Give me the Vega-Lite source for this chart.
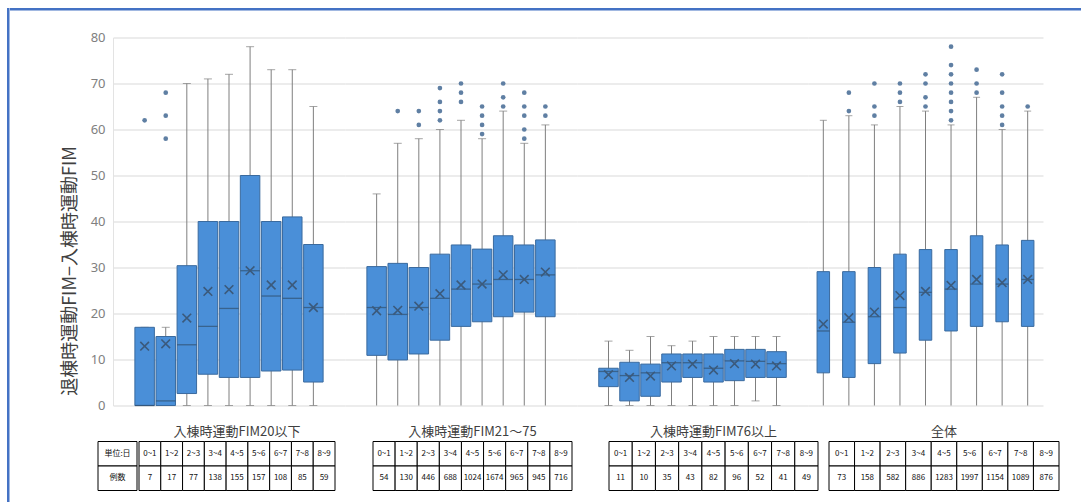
{
  "$schema": "https://vega.github.io/schema/vega-lite/v6.json",
  "background": "white",
  "padding": {"left": 7, "top": 8, "right": 0, "bottom": 0},
  "config": {
    "view": {"stroke": null},
    "font": "Noto Sans CJK JP",
    "title": {"fontSize": 13, "fontWeight": "normal", "color": "#404040", "offset": 2, "font": "Noto Sans CJK JP"}
  },
  "datasets": {
    "boxes": [
      {"group": "le20", "period": "0~1", "lo": 0, "q1": 0, "median": 0, "q3": 17, "hi": 17, "mean": 12.9, "n": 7},
      {"group": "le20", "period": "1~2", "lo": 0, "q1": 0, "median": 1, "q3": 15, "hi": 17, "mean": 13.4, "n": 17},
      {"group": "le20", "period": "2~3", "lo": 0, "q1": 2.6, "median": 13.2, "q3": 30.4, "hi": 70, "mean": 19.0, "n": 77},
      {"group": "le20", "period": "3~4", "lo": 0, "q1": 6.8, "median": 17.2, "q3": 40, "hi": 71, "mean": 24.8, "n": 138},
      {"group": "le20", "period": "4~5", "lo": 0, "q1": 6.1, "median": 21.1, "q3": 40, "hi": 72, "mean": 25.2, "n": 155},
      {"group": "le20", "period": "5~6", "lo": 0, "q1": 6.1, "median": 29.3, "q3": 50, "hi": 78, "mean": 29.3, "n": 157},
      {"group": "le20", "period": "6~7", "lo": 0, "q1": 7.5, "median": 23.8, "q3": 40, "hi": 73, "mean": 26.2, "n": 108},
      {"group": "le20", "period": "7~8", "lo": 0, "q1": 7.7, "median": 23.3, "q3": 41, "hi": 73, "mean": 26.2, "n": 85},
      {"group": "le20", "period": "8~9", "lo": 0, "q1": 5.1, "median": 21.3, "q3": 35, "hi": 65, "mean": 21.3, "n": 59},
      {"group": "mid", "period": "0~1", "lo": 0, "q1": 10.9, "median": 21.3, "q3": 30.2, "hi": 46, "mean": 20.6, "n": 54},
      {"group": "mid", "period": "1~2", "lo": 0, "q1": 9.9, "median": 19.8, "q3": 30.9, "hi": 57, "mean": 20.7, "n": 130},
      {"group": "mid", "period": "2~3", "lo": 0, "q1": 11.2, "median": 21.3, "q3": 30, "hi": 58, "mean": 21.6, "n": 446},
      {"group": "mid", "period": "3~4", "lo": 0, "q1": 14.2, "median": 23.3, "q3": 32.9, "hi": 60, "mean": 24.3, "n": 688},
      {"group": "mid", "period": "4~5", "lo": 0, "q1": 17.2, "median": 25.3, "q3": 34.9, "hi": 62, "mean": 26.2, "n": 1024},
      {"group": "mid", "period": "5~6", "lo": 0, "q1": 18.2, "median": 26.4, "q3": 34, "hi": 58, "mean": 26.4, "n": 1674},
      {"group": "mid", "period": "6~7", "lo": 0, "q1": 19.3, "median": 27.4, "q3": 36.9, "hi": 64, "mean": 28.4, "n": 965},
      {"group": "mid", "period": "7~8", "lo": 0, "q1": 20.3, "median": 27.4, "q3": 34.9, "hi": 57, "mean": 27.4, "n": 945},
      {"group": "mid", "period": "8~9", "lo": 0, "q1": 19.3, "median": 28.4, "q3": 36, "hi": 61, "mean": 29.0, "n": 716},
      {"group": "ge76", "period": "0~1", "lo": 0, "q1": 4.1, "median": 7.4, "q3": 8.1, "hi": 14, "mean": 6.7, "n": 11},
      {"group": "ge76", "period": "1~2", "lo": 0, "q1": 1.0, "median": 6.5, "q3": 9.4, "hi": 12, "mean": 6.1, "n": 10},
      {"group": "ge76", "period": "2~3", "lo": 0, "q1": 2.0, "median": 7.1, "q3": 9.0, "hi": 15, "mean": 6.4, "n": 35},
      {"group": "ge76", "period": "3~4", "lo": 0, "q1": 5.1, "median": 9.3, "q3": 11.2, "hi": 13, "mean": 8.6, "n": 43},
      {"group": "ge76", "period": "4~5", "lo": 0, "q1": 6.1, "median": 9.3, "q3": 11.2, "hi": 14, "mean": 9.0, "n": 82},
      {"group": "ge76", "period": "5~6", "lo": 0, "q1": 5.1, "median": 8.1, "q3": 11.2, "hi": 15, "mean": 7.7, "n": 96},
      {"group": "ge76", "period": "6~7", "lo": 0, "q1": 5.4, "median": 9.7, "q3": 12.2, "hi": 15, "mean": 9.1, "n": 52},
      {"group": "ge76", "period": "7~8", "lo": 1, "q1": 6.1, "median": 9.6, "q3": 12.2, "hi": 15, "mean": 9.0, "n": 41},
      {"group": "ge76", "period": "8~9", "lo": 0, "q1": 6.1, "median": 9.1, "q3": 11.7, "hi": 15, "mean": 8.6, "n": 49},
      {"group": "all", "period": "0~1", "lo": 0, "q1": 7.1, "median": 16.2, "q3": 29.1, "hi": 62, "mean": 17.7, "n": 73},
      {"group": "all", "period": "1~2", "lo": 0, "q1": 6.1, "median": 18.1, "q3": 29.1, "hi": 63, "mean": 19.1, "n": 158},
      {"group": "all", "period": "2~3", "lo": 0, "q1": 9.1, "median": 19.3, "q3": 30, "hi": 61, "mean": 20.3, "n": 582},
      {"group": "all", "period": "3~4", "lo": 0, "q1": 11.4, "median": 21.3, "q3": 32.9, "hi": 65, "mean": 23.9, "n": 886},
      {"group": "all", "period": "4~5", "lo": 0, "q1": 14.2, "median": 24.6, "q3": 33.9, "hi": 64, "mean": 24.8, "n": 1283},
      {"group": "all", "period": "5~6", "lo": 0, "q1": 16.2, "median": 25.3, "q3": 33.9, "hi": 61, "mean": 26.1, "n": 1997},
      {"group": "all", "period": "6~7", "lo": 0, "q1": 17.2, "median": 26.4, "q3": 36.9, "hi": 67, "mean": 27.4, "n": 1154},
      {"group": "all", "period": "7~8", "lo": 0, "q1": 18.2, "median": 26.4, "q3": 34.9, "hi": 60, "mean": 26.7, "n": 1089},
      {"group": "all", "period": "8~9", "lo": 0, "q1": 17.2, "median": 27.4, "q3": 35.9, "hi": 64, "mean": 27.4, "n": 876}
    ],
    "outliers": [
      {"group": "le20", "period": "0~1", "value": 62},
      {"group": "le20", "period": "1~2", "value": 68},
      {"group": "le20", "period": "1~2", "value": 63},
      {"group": "le20", "period": "1~2", "value": 58},
      {"group": "mid", "period": "1~2", "value": 64},
      {"group": "mid", "period": "2~3", "value": 64},
      {"group": "mid", "period": "2~3", "value": 61},
      {"group": "mid", "period": "3~4", "value": 62},
      {"group": "mid", "period": "3~4", "value": 64},
      {"group": "mid", "period": "3~4", "value": 66},
      {"group": "mid", "period": "3~4", "value": 69},
      {"group": "mid", "period": "4~5", "value": 66},
      {"group": "mid", "period": "4~5", "value": 68},
      {"group": "mid", "period": "4~5", "value": 70},
      {"group": "mid", "period": "5~6", "value": 59},
      {"group": "mid", "period": "5~6", "value": 61},
      {"group": "mid", "period": "5~6", "value": 63},
      {"group": "mid", "period": "5~6", "value": 65},
      {"group": "mid", "period": "6~7", "value": 65},
      {"group": "mid", "period": "6~7", "value": 67},
      {"group": "mid", "period": "6~7", "value": 70},
      {"group": "mid", "period": "7~8", "value": 58},
      {"group": "mid", "period": "7~8", "value": 60},
      {"group": "mid", "period": "7~8", "value": 63},
      {"group": "mid", "period": "7~8", "value": 65},
      {"group": "mid", "period": "7~8", "value": 68},
      {"group": "mid", "period": "8~9", "value": 63},
      {"group": "mid", "period": "8~9", "value": 65},
      {"group": "all", "period": "1~2", "value": 64},
      {"group": "all", "period": "1~2", "value": 68},
      {"group": "all", "period": "2~3", "value": 63},
      {"group": "all", "period": "2~3", "value": 65},
      {"group": "all", "period": "2~3", "value": 70},
      {"group": "all", "period": "3~4", "value": 66},
      {"group": "all", "period": "3~4", "value": 68},
      {"group": "all", "period": "3~4", "value": 70},
      {"group": "all", "period": "4~5", "value": 65},
      {"group": "all", "period": "4~5", "value": 67},
      {"group": "all", "period": "4~5", "value": 70},
      {"group": "all", "period": "4~5", "value": 72},
      {"group": "all", "period": "5~6", "value": 62},
      {"group": "all", "period": "5~6", "value": 64},
      {"group": "all", "period": "5~6", "value": 66},
      {"group": "all", "period": "5~6", "value": 68},
      {"group": "all", "period": "5~6", "value": 70},
      {"group": "all", "period": "5~6", "value": 72},
      {"group": "all", "period": "5~6", "value": 74},
      {"group": "all", "period": "5~6", "value": 78},
      {"group": "all", "period": "6~7", "value": 68},
      {"group": "all", "period": "6~7", "value": 70},
      {"group": "all", "period": "6~7", "value": 73},
      {"group": "all", "period": "7~8", "value": 61},
      {"group": "all", "period": "7~8", "value": 63},
      {"group": "all", "period": "7~8", "value": 65},
      {"group": "all", "period": "7~8", "value": 68},
      {"group": "all", "period": "7~8", "value": 72},
      {"group": "all", "period": "8~9", "value": 65}
    ],
    "rowlabels": [
      {"row": "period", "label": "単位:日"},
      {"row": "n", "label": "例数"}
    ]
  },
  "columns": 2,
  "align": "none",
  "spacing": 0,
  "concat": [
    {
      "width": 0.5,
      "height": 494,
      "view": {"stroke": "#4472C4", "strokeWidth": 2},
      "data": {"values": []},
      "mark": "rule",
      "encoding": {}
    },
    {
      "columns": 1,
      "align": "none",
      "spacing": 20.5,
      "concat": [
        {
          "width": 1073.5,
          "height": 0.5,
          "view": {"stroke": "#4472C4", "strokeWidth": 2},
          "data": {"values": []},
          "mark": "rule",
          "encoding": {}
        },
        {
          "columns": 1,
          "align": "none",
          "spacing": 13,
          "concat": [
            {
              "spacing": 0,
              "hconcat": [
                {
                  "width": 50,
                  "height": 368,
                  "data": {"values": []},
                  "mark": "rule",
                  "encoding": {}
                },
                {
                  "width": 232,
                  "height": 368,
                  "layer": [
                    {
                      "data": {"name": "boxes"},
                      "transform": [{"filter": "datum.group === 'le20'"}],
                      "mark": {"type": "rule", "color": "#7F7F7F", "strokeWidth": 1},
                      "encoding": {
                        "x": {"field": "period", "type": "nominal", "scale": {"domain": ["0~1","1~2","2~3","3~4","4~5","5~6","6~7","7~8","8~9"], "paddingInner": 0, "paddingOuter": 1.1}, "axis": null},
                        "y": {"field": "lo", "type": "quantitative", "scale": {"domain": [0, 80], "nice": false},
                          "axis": {"title": "退棟時運動FIM−入棟時運動FIM", "values": [0,10,20,30,40,50,60,70,80], "grid": true, "gridColor": "#D9D9D9", "ticks": false, "domain": true, "domainColor": "#E3E3E3", "labelColor": "#808080", "labelFont": "Noto Sans", "labelFontSize": 13, "labelPadding": 8, "titleFont": "Noto Sans CJK JP", "titleFontSize": 18, "titleFontWeight": "normal", "titleColor": "#404040", "titlePadding": 10, "titleY": 233, "minExtent": 24, "maxExtent": 24}},
                        "y2": {"field": "hi"}
                      }
                    },
                    {
                      "data": {"name": "boxes"},
                      "transform": [{"filter": "datum.group === 'le20'"}],
                      "mark": {"type": "tick", "color": "#7F7F7F", "size": 8, "thickness": 1},
                      "encoding": {
                        "x": {"field": "period", "type": "nominal", "axis": null},
                        "y": {"field": "hi", "type": "quantitative"}
                      }
                    },
                    {
                      "data": {"name": "boxes"},
                      "transform": [{"filter": "datum.group === 'le20'"}],
                      "mark": {"type": "tick", "color": "#7F7F7F", "size": 8, "thickness": 1},
                      "encoding": {
                        "x": {"field": "period", "type": "nominal", "axis": null},
                        "y": {"field": "lo", "type": "quantitative"}
                      }
                    },
                    {
                      "data": {"name": "boxes"},
                      "transform": [{"filter": "datum.group === 'le20'"}],
                      "mark": {"type": "bar", "fill": "#4A8FD8", "stroke": "#3A6A9E", "strokeWidth": 1, "size": 19.5},
                      "encoding": {
                        "x": {"field": "period", "type": "nominal", "axis": null},
                        "y": {"field": "q1", "type": "quantitative"},
                        "y2": {"field": "q3"}
                      }
                    },
                    {
                      "data": {"name": "boxes"},
                      "transform": [{"filter": "datum.group === 'le20'"}],
                      "mark": {"type": "tick", "color": "#30506F", "size": 19.5, "thickness": 1.3},
                      "encoding": {
                        "x": {"field": "period", "type": "nominal", "axis": null},
                        "y": {"field": "median", "type": "quantitative"}
                      }
                    },
                    {
                      "data": {"name": "boxes"},
                      "transform": [{"filter": "datum.group === 'le20'"}],
                      "mark": {"type": "point", "shape": "M-1,-1L1,1M1,-1L-1,1", "filled": false, "color": "#3B5A7C", "strokeWidth": 1.6, "size": 75, "opacity": 1},
                      "encoding": {
                        "x": {"field": "period", "type": "nominal", "axis": null},
                        "y": {"field": "mean", "type": "quantitative"}
                      }
                    },
                    {
                      "data": {"name": "outliers"},
                      "transform": [{"filter": "datum.group === 'le20'"}],
                      "mark": {"type": "circle", "color": "#5F7FA3", "size": 22, "opacity": 1},
                      "encoding": {
                        "x": {"field": "period", "type": "nominal", "axis": null},
                        "y": {"field": "value", "type": "quantitative"}
                      }
                    }
                  ]
                },
                {
                  "width": 232,
                  "height": 368,
                  "layer": [
                    {
                      "data": {"name": "boxes"},
                      "transform": [{"filter": "datum.group === 'mid'"}],
                      "mark": {"type": "rule", "color": "#7F7F7F", "strokeWidth": 1},
                      "encoding": {
                        "x": {"field": "period", "type": "nominal", "scale": {"domain": ["0~1","1~2","2~3","3~4","4~5","5~6","6~7","7~8","8~9"], "paddingInner": 0, "paddingOuter": 1.1}, "axis": null},
                        "y": {"field": "lo", "type": "quantitative", "scale": {"domain": [0, 80], "nice": false},
                          "axis": {"title": null, "values": [0,10,20,30,40,50,60,70,80], "grid": true, "gridColor": "#D9D9D9", "labels": false, "ticks": false, "domain": false, "minExtent": 0, "maxExtent": 0}},
                        "y2": {"field": "hi"}
                      }
                    },
                    {
                      "data": {"name": "boxes"},
                      "transform": [{"filter": "datum.group === 'mid'"}],
                      "mark": {"type": "tick", "color": "#7F7F7F", "size": 8, "thickness": 1},
                      "encoding": {
                        "x": {"field": "period", "type": "nominal", "axis": null},
                        "y": {"field": "hi", "type": "quantitative"}
                      }
                    },
                    {
                      "data": {"name": "boxes"},
                      "transform": [{"filter": "datum.group === 'mid'"}],
                      "mark": {"type": "bar", "fill": "#4A8FD8", "stroke": "#3A6A9E", "strokeWidth": 1, "size": 19.5},
                      "encoding": {
                        "x": {"field": "period", "type": "nominal", "axis": null},
                        "y": {"field": "q1", "type": "quantitative"},
                        "y2": {"field": "q3"}
                      }
                    },
                    {
                      "data": {"name": "boxes"},
                      "transform": [{"filter": "datum.group === 'mid'"}],
                      "mark": {"type": "tick", "color": "#30506F", "size": 19.5, "thickness": 1.3},
                      "encoding": {
                        "x": {"field": "period", "type": "nominal", "axis": null},
                        "y": {"field": "median", "type": "quantitative"}
                      }
                    },
                    {
                      "data": {"name": "boxes"},
                      "transform": [{"filter": "datum.group === 'mid'"}],
                      "mark": {"type": "point", "shape": "M-1,-1L1,1M1,-1L-1,1", "filled": false, "color": "#3B5A7C", "strokeWidth": 1.6, "size": 75, "opacity": 1},
                      "encoding": {
                        "x": {"field": "period", "type": "nominal", "axis": null},
                        "y": {"field": "mean", "type": "quantitative"}
                      }
                    },
                    {
                      "data": {"name": "outliers"},
                      "transform": [{"filter": "datum.group === 'mid'"}],
                      "mark": {"type": "circle", "color": "#5F7FA3", "size": 22, "opacity": 1},
                      "encoding": {
                        "x": {"field": "period", "type": "nominal", "axis": null},
                        "y": {"field": "value", "type": "quantitative"}
                      }
                    }
                  ]
                },
                {
                  "width": 231,
                  "height": 368,
                  "layer": [
                    {
                      "data": {"name": "boxes"},
                      "transform": [{"filter": "datum.group === 'ge76'"}],
                      "mark": {"type": "rule", "color": "#7F7F7F", "strokeWidth": 1},
                      "encoding": {
                        "x": {"field": "period", "type": "nominal", "scale": {"domain": ["0~1","1~2","2~3","3~4","4~5","5~6","6~7","7~8","8~9"], "paddingInner": 0, "paddingOuter": 1.1}, "axis": null},
                        "y": {"field": "lo", "type": "quantitative", "scale": {"domain": [0, 80], "nice": false},
                          "axis": {"title": null, "values": [0,10,20,30,40,50,60,70,80], "grid": true, "gridColor": "#D9D9D9", "labels": false, "ticks": false, "domain": false, "minExtent": 0, "maxExtent": 0}},
                        "y2": {"field": "hi"}
                      }
                    },
                    {
                      "data": {"name": "boxes"},
                      "transform": [{"filter": "datum.group === 'ge76'"}],
                      "mark": {"type": "tick", "color": "#7F7F7F", "size": 8, "thickness": 1},
                      "encoding": {
                        "x": {"field": "period", "type": "nominal", "axis": null},
                        "y": {"field": "hi", "type": "quantitative"}
                      }
                    },
                    {
                      "data": {"name": "boxes"},
                      "transform": [{"filter": "datum.group === 'ge76'"}],
                      "mark": {"type": "tick", "color": "#7F7F7F", "size": 8, "thickness": 1},
                      "encoding": {
                        "x": {"field": "period", "type": "nominal", "axis": null},
                        "y": {"field": "lo", "type": "quantitative"}
                      }
                    },
                    {
                      "data": {"name": "boxes"},
                      "transform": [{"filter": "datum.group === 'ge76'"}],
                      "mark": {"type": "bar", "fill": "#4A8FD8", "stroke": "#3A6A9E", "strokeWidth": 1, "size": 19.5},
                      "encoding": {
                        "x": {"field": "period", "type": "nominal", "axis": null},
                        "y": {"field": "q1", "type": "quantitative"},
                        "y2": {"field": "q3"}
                      }
                    },
                    {
                      "data": {"name": "boxes"},
                      "transform": [{"filter": "datum.group === 'ge76'"}],
                      "mark": {"type": "tick", "color": "#30506F", "size": 19.5, "thickness": 1.3},
                      "encoding": {
                        "x": {"field": "period", "type": "nominal", "axis": null},
                        "y": {"field": "median", "type": "quantitative"}
                      }
                    },
                    {
                      "data": {"name": "boxes"},
                      "transform": [{"filter": "datum.group === 'ge76'"}],
                      "mark": {"type": "point", "shape": "M-1,-1L1,1M1,-1L-1,1", "filled": false, "color": "#3B5A7C", "strokeWidth": 1.6, "size": 75, "opacity": 1},
                      "encoding": {
                        "x": {"field": "period", "type": "nominal", "axis": null},
                        "y": {"field": "mean", "type": "quantitative"}
                      }
                    }
                  ]
                },
                {
                  "width": 235,
                  "height": 368,
                  "layer": [
                    {
                      "data": {"name": "boxes"},
                      "transform": [{"filter": "datum.group === 'all'"}],
                      "mark": {"type": "rule", "color": "#7F7F7F", "strokeWidth": 1},
                      "encoding": {
                        "x": {"field": "period", "type": "nominal", "scale": {"domain": ["0~1","1~2","2~3","3~4","4~5","5~6","6~7","7~8","8~9"], "paddingInner": 0, "paddingOuter": 0.1}, "axis": null},
                        "y": {"field": "lo", "type": "quantitative", "scale": {"domain": [0, 80], "nice": false},
                          "axis": {"title": null, "values": [0,10,20,30,40,50,60,70,80], "grid": true, "gridColor": "#D9D9D9", "labels": false, "ticks": false, "domain": false, "minExtent": 0, "maxExtent": 0}},
                        "y2": {"field": "hi"}
                      }
                    },
                    {
                      "data": {"name": "boxes"},
                      "transform": [{"filter": "datum.group === 'all'"}],
                      "mark": {"type": "tick", "color": "#7F7F7F", "size": 7, "thickness": 1},
                      "encoding": {
                        "x": {"field": "period", "type": "nominal", "axis": null},
                        "y": {"field": "hi", "type": "quantitative"}
                      }
                    },
                    {
                      "data": {"name": "boxes"},
                      "transform": [{"filter": "datum.group === 'all'"}],
                      "mark": {"type": "bar", "fill": "#4A8FD8", "stroke": "#3A6A9E", "strokeWidth": 1, "size": 12.5},
                      "encoding": {
                        "x": {"field": "period", "type": "nominal", "axis": null},
                        "y": {"field": "q1", "type": "quantitative"},
                        "y2": {"field": "q3"}
                      }
                    },
                    {
                      "data": {"name": "boxes"},
                      "transform": [{"filter": "datum.group === 'all'"}],
                      "mark": {"type": "tick", "color": "#30506F", "size": 12.5, "thickness": 1.3},
                      "encoding": {
                        "x": {"field": "period", "type": "nominal", "axis": null},
                        "y": {"field": "median", "type": "quantitative"}
                      }
                    },
                    {
                      "data": {"name": "boxes"},
                      "transform": [{"filter": "datum.group === 'all'"}],
                      "mark": {"type": "point", "shape": "M-1,-1L1,1M1,-1L-1,1", "filled": false, "color": "#3B5A7C", "strokeWidth": 1.6, "size": 75, "opacity": 1},
                      "encoding": {
                        "x": {"field": "period", "type": "nominal", "axis": null},
                        "y": {"field": "mean", "type": "quantitative"}
                      }
                    },
                    {
                      "data": {"name": "outliers"},
                      "transform": [{"filter": "datum.group === 'all'"}],
                      "mark": {"type": "circle", "color": "#5F7FA3", "size": 22, "opacity": 1},
                      "encoding": {
                        "x": {"field": "period", "type": "nominal", "axis": null},
                        "y": {"field": "value", "type": "quantitative"}
                      }
                    }
                  ]
                }
              ]
            },
            {
              "spacing": 0,
              "hconcat": [
                {
                  "width": 86,
                  "height": 49,
                  "data": {"values": []},
                  "mark": "rule",
                  "encoding": {}
                },
                {
                  "width": 39,
                  "height": 49,
                  "data": {"name": "rowlabels"},
                  "layer": [
                    {
                      "mark": {"type": "rect", "fill": "white", "stroke": "#000000", "strokeWidth": 1},
                      "encoding": {
                        "y": {"field": "row", "type": "nominal", "scale": {"domain": ["period", "n"], "paddingInner": 0, "paddingOuter": 0}, "axis": null},
                        "x": {"value": 0},
                        "x2": {"value": "width"}
                      }
                    },
                    {
                      "mark": {"type": "text", "fontSize": 8, "color": "#111111"},
                      "encoding": {
                        "y": {"field": "row", "type": "nominal", "axis": null},
                        "text": {"field": "label"}
                      }
                    }
                  ]
                },
                {
                  "width": 196,
                  "height": 49,
                  "title": "入棟時運動FIM20以下",
                  "data": {"name": "boxes"},
                  "transform": [{"filter": "datum.group === 'le20'"}, {"fold": ["period", "n"], "as": ["row", "val"]}],
                  "layer": [
                    {
                      "mark": {"type": "rect", "fill": "white", "stroke": "#000000", "strokeWidth": 1},
                      "encoding": {
                        "x": {"field": "period", "type": "nominal", "scale": {"domain": ["0~1","1~2","2~3","3~4","4~5","5~6","6~7","7~8","8~9"], "paddingInner": 0, "paddingOuter": 0}, "axis": null},
                        "y": {"field": "row", "type": "nominal", "scale": {"domain": ["period", "n"], "paddingInner": 0, "paddingOuter": 0}, "axis": null}
                      }
                    },
                    {
                      "mark": {"type": "text", "fontSize": 8, "color": "#111111"},
                      "encoding": {
                        "x": {"field": "period", "type": "nominal", "axis": null},
                        "y": {"field": "row", "type": "nominal", "axis": null},
                        "text": {"field": "val"}
                      }
                    }
                  ]
                },
                {
                  "width": 199,
                  "height": 49,
                  "title": "入棟時運動FIM21～75",
                  "data": {"name": "boxes"},
                  "transform": [{"filter": "datum.group === 'mid'"}, {"fold": ["period", "n"], "as": ["row", "val"]}],
                  "layer": [
                    {
                      "mark": {"type": "rect", "fill": "white", "stroke": "#000000", "strokeWidth": 1},
                      "encoding": {
                        "x": {"field": "period", "type": "nominal", "scale": {"domain": ["0~1","1~2","2~3","3~4","4~5","5~6","6~7","7~8","8~9"], "paddingInner": 0, "paddingOuter": 0}, "axis": null},
                        "y": {"field": "row", "type": "nominal", "scale": {"domain": ["period", "n"], "paddingInner": 0, "paddingOuter": 0},
                          "axis": {"title": null, "labels": false, "ticks": false, "domain": false, "grid": false, "minExtent": 37, "maxExtent": 37}}
                      }
                    },
                    {
                      "mark": {"type": "text", "fontSize": 8, "color": "#111111"},
                      "encoding": {
                        "x": {"field": "period", "type": "nominal", "axis": null},
                        "y": {"field": "row", "type": "nominal"},
                        "text": {"field": "val"}
                      }
                    }
                  ]
                },
                {
                  "width": 209,
                  "height": 49,
                  "title": "入棟時運動FIM76以上",
                  "data": {"name": "boxes"},
                  "transform": [{"filter": "datum.group === 'ge76'"}, {"fold": ["period", "n"], "as": ["row", "val"]}],
                  "layer": [
                    {
                      "mark": {"type": "rect", "fill": "white", "stroke": "#000000", "strokeWidth": 1},
                      "encoding": {
                        "x": {"field": "period", "type": "nominal", "scale": {"domain": ["0~1","1~2","2~3","3~4","4~5","5~6","6~7","7~8","8~9"], "paddingInner": 0, "paddingOuter": 0}, "axis": null},
                        "y": {"field": "row", "type": "nominal", "scale": {"domain": ["period", "n"], "paddingInner": 0, "paddingOuter": 0},
                          "axis": {"title": null, "labels": false, "ticks": false, "domain": false, "grid": false, "minExtent": 36, "maxExtent": 36}}
                      }
                    },
                    {
                      "mark": {"type": "text", "fontSize": 8, "color": "#111111"},
                      "encoding": {
                        "x": {"field": "period", "type": "nominal", "axis": null},
                        "y": {"field": "row", "type": "nominal"},
                        "text": {"field": "val"}
                      }
                    }
                  ]
                },
                {
                  "width": 230,
                  "height": 49,
                  "title": "全体",
                  "data": {"name": "boxes"},
                  "transform": [{"filter": "datum.group === 'all'"}, {"fold": ["period", "n"], "as": ["row", "val"]}],
                  "layer": [
                    {
                      "mark": {"type": "rect", "fill": "white", "stroke": "#000000", "strokeWidth": 1},
                      "encoding": {
                        "x": {"field": "period", "type": "nominal", "scale": {"domain": ["0~1","1~2","2~3","3~4","4~5","5~6","6~7","7~8","8~9"], "paddingInner": 0, "paddingOuter": 0}, "axis": null},
                        "y": {"field": "row", "type": "nominal", "scale": {"domain": ["period", "n"], "paddingInner": 0, "paddingOuter": 0},
                          "axis": {"title": null, "labels": false, "ticks": false, "domain": false, "grid": false, "minExtent": 10, "maxExtent": 10}}
                      }
                    },
                    {
                      "mark": {"type": "text", "fontSize": 8, "color": "#111111"},
                      "encoding": {
                        "x": {"field": "period", "type": "nominal", "axis": null},
                        "y": {"field": "row", "type": "nominal"},
                        "text": {"field": "val"}
                      }
                    }
                  ]
                }
              ]
            }
          ]
        }
      ]
    }
  ]
}
